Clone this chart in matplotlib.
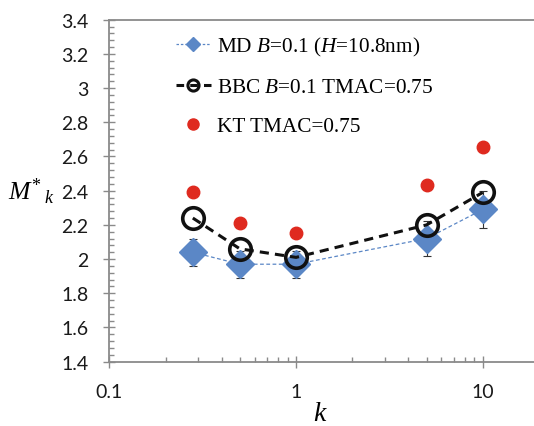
import matplotlib
matplotlib.use("Agg")
import matplotlib.pyplot as plt
from matplotlib.lines import Line2D
from matplotlib.ticker import LogLocator, MultipleLocator, FixedLocator, FixedFormatter

# data
k_values = [0.28, 0.5, 1, 5, 10]
md_values = [2.04, 1.97, 1.97, 2.12, 2.29]
md_errors = [0.08, 0.08, 0.08, 0.10, 0.11]
bbc_values = [2.24, 2.06, 2.01, 2.20, 2.39]
kt_values = [2.39, 2.21, 2.155, 2.435, 2.655]

md_label = "MD $B$=0.1 ($H$=10.8nm)"
bbc_label = "BBC $B$=0.1 TMAC=0.75"
kt_label = "KT TMAC=0.75"

x_ticks = [0.1, 1, 10]
x_tick_labels = ["0.1", "1", "10"]

blue = "#5b87c6"
red = "#df2a1f"
grey = "#8a8a8a"

plt.rcParams["mathtext.fontset"] = "custom"
plt.rcParams["mathtext.rm"] = "Liberation Serif"
plt.rcParams["mathtext.it"] = "Liberation Serif:italic"

fig = plt.figure(figsize=(5.34, 4.27), dpi=100)
ax = fig.add_axes([0.2047, 0.1506, 0.8047, 0.801])

ax.errorbar(k_values, md_values, yerr=md_errors, fmt="none", ecolor="#333333",
            elinewidth=0.8, capsize=3, capthick=0.8, zorder=2)
ax.plot(k_values, md_values, color=blue, linestyle=(0, (3, 2)), linewidth=0.9,
        marker="D", markersize=14, markerfacecolor=blue, markeredgecolor=blue, zorder=3)
ax.plot(k_values, bbc_values, color="#111111", linestyle=(0, (3, 2)), linewidth=2.2,
        marker="o", markersize=15.5, markerfacecolor="none", markeredgecolor="#111111",
        markeredgewidth=2.6, zorder=4)
ax.plot(k_values, kt_values, linestyle="none", marker="o", markersize=9,
        markerfacecolor=red, markeredgecolor=red, zorder=5)

ax.set_xscale("log")
ax.set_xlim(0.1, 20)
ax.set_ylim(1.4, 3.4)

ax.xaxis.set_major_locator(FixedLocator(x_ticks))
ax.xaxis.set_major_formatter(FixedFormatter(x_tick_labels))
ax.xaxis.set_minor_locator(LogLocator(base=10, subs=range(2, 10)))
ax.xaxis.set_minor_formatter(FixedFormatter([]))
ax.yaxis.set_major_locator(MultipleLocator(0.2))
ax.yaxis.set_minor_locator(MultipleLocator(0.04))
ax.set_yticklabels([f"{v:g}" for v in ax.get_yticks()])

ax.tick_params(which="major", direction="inout", length=9, width=1, color=grey,
               labelsize=14, labelcolor="#1a1a1a", pad=10.5)
ax.tick_params(which="minor", direction="in", length=3.5, width=1, color=grey)
for lab in ax.get_xticklabels() + ax.get_yticklabels():
    lab.set_family("Lato")

for side in ["left", "bottom", "top"]:
    ax.spines[side].set_color(grey)
    ax.spines[side].set_linewidth(1.3)
ax.spines["right"].set_visible(False)

ax.set_ylabel("$M^{\\!*}{}_k$", fontsize=18.5, rotation=0, va="center", ha="center")
ax.yaxis.set_label_coords(-0.182, 0.5)
ax.set_xlabel("$k$", fontsize=20, va="center")
ax.xaxis.set_label_coords(0.49, -0.147)

handles = [
    Line2D([], [], color=blue, linestyle=(0, (2, 1.5)), linewidth=0.9, marker="D",
           markersize=7, markerfacecolor=blue, markeredgecolor=blue),
    Line2D([], [], color="#111111", linestyle=(0, (2.5, 2)), linewidth=2.2, marker="o",
           markersize=8, markerfacecolor="none", markeredgecolor="#111111", markeredgewidth=2.2),
    Line2D([], [], linestyle="none", marker="o", markersize=8, markerfacecolor=red,
           markeredgecolor=red),
]
ax.legend(handles, [md_label, bbc_label, kt_label], loc="upper left",
          bbox_to_anchor=(0.155, 0.955), frameon=False, borderpad=0, borderaxespad=0,
          handlelength=1.65, handletextpad=0.28, labelspacing=0.9,
          prop={"family": "Liberation Serif", "size": 15.3})

plt.savefig("out.png", dpi=100)
